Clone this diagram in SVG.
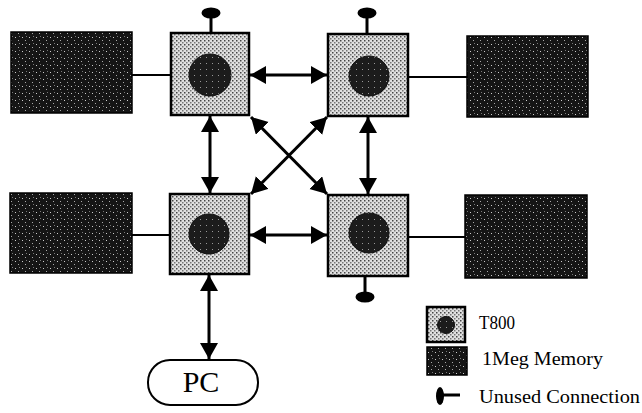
<svg xmlns="http://www.w3.org/2000/svg" width="642" height="413" viewBox="0 0 642 413">
<defs>
<pattern id="pLight" width="4" height="4" patternUnits="userSpaceOnUse">
<rect width="4" height="4" fill="#e0e0e0"/>
<rect x="0" y="0" width="1.5" height="1.5" fill="#444"/>
<rect x="2" y="2" width="1.5" height="1.5" fill="#777"/>
</pattern>
<pattern id="pDark" width="7" height="7" patternUnits="userSpaceOnUse">
<rect width="7" height="7" fill="#151515"/>
<rect x="1" y="2" width="1" height="1" fill="#ccc"/>
<rect x="4" y="5" width="1" height="1" fill="#aaa"/>
<rect x="5" y="1" width="1" height="1" fill="#777"/>
</pattern>
<pattern id="pCore" width="6" height="6" patternUnits="userSpaceOnUse">
<rect width="6" height="6" fill="#1c1c1c"/>
<rect x="2" y="3" width="1" height="1" fill="#999"/>
</pattern>
<marker id="ah" markerUnits="userSpaceOnUse" markerWidth="17" markerHeight="19" refX="16" refY="9" orient="auto-start-reverse" viewBox="0 0 17 19">
<path d="M0,0 L16,9 L0,18 Z" fill="#000"/>
</marker>
<style>
.t800{fill:url(#pLight);stroke:#000;stroke-width:2.5}
.core{fill:url(#pCore);stroke:#111;stroke-width:1}
.mem{fill:url(#pDark);stroke:#000;stroke-width:1.5}
.link{stroke:#000;stroke-width:3;fill:none;marker-start:url(#ah);marker-end:url(#ah)}
.bus{stroke:#000;stroke-width:2;fill:none}
.stub{stroke:#000;stroke-width:3}
.lbl{font-family:"Liberation Serif","Times New Roman",serif;fill:#000}
</style>
</defs>
<rect width="642" height="413" fill="#fff"/>
<g id="connectors">
<line class="bus" x1="132" y1="75" x2="171" y2="75"/>
<line class="bus" x1="408" y1="77" x2="467" y2="77"/>
<line class="bus" x1="132" y1="235" x2="170" y2="235"/>
<line class="bus" x1="408" y1="237" x2="465" y2="237"/>
<line class="link" x1="250" y1="75" x2="327" y2="75"/>
<line class="link" x1="250" y1="235" x2="327" y2="235"/>
<line class="link" x1="210" y1="116" x2="210" y2="193"/>
<line class="link" x1="368" y1="117" x2="368" y2="194"/>
<line class="link" x1="251" y1="117" x2="327" y2="194"/>
<line class="link" x1="327" y1="117" x2="251" y2="194"/>
<line class="link" x1="209" y1="275" x2="209" y2="359"/>
<line class="stub" x1="211" y1="14" x2="211" y2="33"/>
<ellipse cx="211" cy="13" rx="9.5" ry="5.5" fill="#000"/>
<line class="stub" x1="367" y1="14" x2="367" y2="34"/>
<ellipse cx="367" cy="13" rx="9.5" ry="5.5" fill="#000"/>
<line class="stub" x1="365" y1="276" x2="365" y2="296"/>
<ellipse cx="365" cy="297" rx="9.5" ry="5.5" fill="#000"/>
</g>
<g id="mem-tl"><rect class="mem" x="11" y="32" width="121" height="81"/></g>
<g id="mem-tr"><rect class="mem" x="467" y="36" width="121" height="81"/></g>
<g id="mem-bl"><rect class="mem" x="10" y="193" width="122" height="80"/></g>
<g id="mem-br"><rect class="mem" x="465" y="195" width="122" height="83"/></g>
<g id="t800-tl"><rect class="t800" x="171" y="33" width="78" height="82"/><circle class="core" cx="210" cy="75" r="21"/></g>
<g id="t800-tr"><rect class="t800" x="328" y="34" width="80" height="82"/><circle class="core" cx="369" cy="76" r="20"/></g>
<g id="t800-bl"><rect class="t800" x="170" y="194" width="79" height="80"/><circle class="core" cx="209" cy="234" r="20"/></g>
<g id="t800-br"><rect class="t800" x="328" y="195" width="80" height="81"/><circle class="core" cx="369" cy="233" r="20"/></g>
<g id="pc">
<rect x="148" y="360" width="110" height="45" rx="22" ry="22" fill="#fff" stroke="#000" stroke-width="2"/>
<text class="lbl" x="201" y="392" font-size="30" text-anchor="middle">PC</text>
</g>
<g id="legend">
<rect class="t800" x="427" y="307" width="38" height="35" stroke-width="2"/>
<circle class="core" cx="446" cy="325" r="8.5"/>
<text class="lbl" x="479" y="329" font-size="19" textLength="36" lengthAdjust="spacingAndGlyphs">T800</text>
<rect class="mem" x="427" y="347" width="40" height="28"/>
<text class="lbl" x="482" y="365" font-size="19" textLength="121" lengthAdjust="spacingAndGlyphs">1Meg Memory</text>
<line class="stub" x1="440" y1="395" x2="460" y2="395"/>
<ellipse cx="440" cy="396" rx="4" ry="9" fill="#000"/>
<text class="lbl" x="479" y="403" font-size="19" textLength="161" lengthAdjust="spacingAndGlyphs">Unused Connection</text>
</g>
</svg>
